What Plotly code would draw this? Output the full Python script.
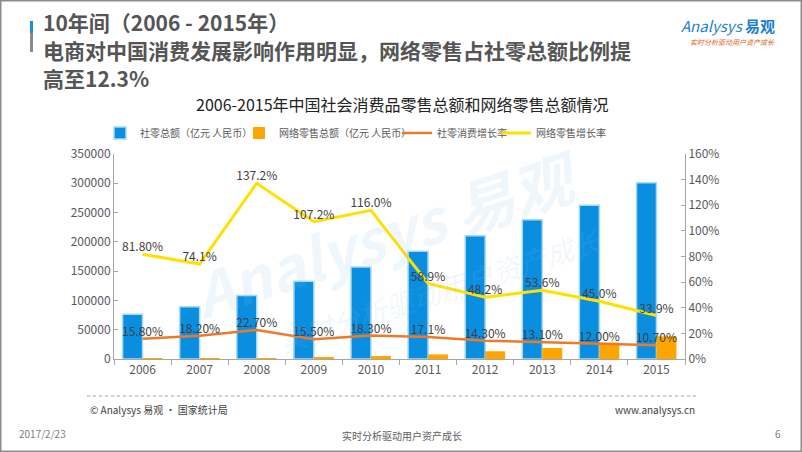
import plotly.graph_objects as go

years = ["2006", "2007", "2008", "2009", "2010", "2011", "2012", "2013", "2014", "2015"]
retail_total = [76410, 89210, 108488, 132678, 156998, 183919, 210307, 237810, 262394, 300931]
online_total = [315, 561, 1300, 2630, 5131, 7826, 13205, 18851, 27898, 38773]
retail_growth = [15.8, 18.2, 22.7, 15.5, 18.3, 17.1, 14.3, 13.1, 12.0, 10.7]
retail_growth_labels = ["15.80%", "18.20%", "22.70%", "15.50%", "18.30%", "17.1%", "14.30%", "13.10%", "12.00%", "10.70%"]
online_growth = [81.8, 74.1, 137.2, 107.2, 116.0, 58.9, 48.2, 53.6, 45.0, 33.9]
online_growth_labels = ["81.80%", "74.1%", "137.2%", "107.2%", "116.0%", "58.9%", "48.2%", "53.6%", "45.0%", "33.9%"]
left_ticks = [0, 50000, 100000, 150000, 200000, 250000, 300000, 350000]
left_tick_text = ["0", "50000", "100000", "150000", "200000", "250000", "300000", "350000"]
right_ticks = [0, 20, 40, 60, 80, 100, 120, 140, 160]
right_tick_text = ["0%", "20%", "40%", "60%", "80%", "100%", "120%", "140%", "160%"]

FONT = "Noto Sans CJK SC"
W, H = 802, 452
L, R, T, B = 114, 685, 154, 359

def px(x):
    return (x - L) / (R - L)

def py(y):
    return (B - y) / (B - T)

fig = go.Figure()
fig.add_trace(go.Bar(x=years, y=retail_total, name="社零总额（亿元 人民币）", legend="legend",
                     marker=dict(color="#0A8FE0", line=dict(color="#A8DAF7", width=1.5))))
fig.add_trace(go.Bar(x=years, y=online_total, name="网络零售总额（亿元 人民币）", legend="legend2",
                     marker=dict(color="#FFA500", line=dict(width=0))))
fig.add_trace(go.Scatter(x=years, y=retail_growth, name="社零消费增长率", yaxis="y2", legend="legend3",
                         mode="lines+text", line=dict(color="#F07828", width=2.5),
                         text=retail_growth_labels, textposition="top center",
                         textfont=dict(size=12, color="#404040", family=FONT), cliponaxis=False))
fig.add_trace(go.Scatter(x=years, y=online_growth, name="网络零售增长率", yaxis="y2", legend="legend4",
                         mode="lines+text", line=dict(color="#FFE000", width=3),
                         text=online_growth_labels, textposition="top center",
                         textfont=dict(size=12, color="#404040", family=FONT), cliponaxis=False))

ann = []
# watermark
ann.append(dict(x=px(385), y=py(232), xref="paper", yref="paper", text="<i><b>Analysys 易观</b></i>",
                showarrow=False, textangle=-18, font=dict(size=60, color="rgba(140,190,235,0.13)", family=FONT)))
ann.append(dict(x=px(440), y=py(290), xref="paper", yref="paper", text="<i>实时分析驱动用户资产成长</i>",
                showarrow=False, textangle=-18, font=dict(size=28, color="rgba(140,190,235,0.12)", family=FONT)))
# title lines
title_lines = [("10年间（2006 - 2015年）", 22), ("电商对中国消费发展影响作用明显，网络零售占社零总额比例提", 50), ("高至12.3%", 78)]
for t, yy in title_lines:
    ann.append(dict(x=px(41), y=py(yy), xref="paper", yref="paper", text="<b>" + t + "</b>", showarrow=False,
                    xanchor="left", yanchor="middle", font=dict(size=21, color="#555555", family=FONT)))
ann.append(dict(x=px(402), y=py(104), xref="paper", yref="paper", text="2006-2015年中国社会消费品零售总额和网络零售总额情况",
                showarrow=False, xanchor="center", yanchor="middle", font=dict(size=16, color="#222222", family=FONT)))
# logo
ann.append(dict(x=px(728), y=py(26), xref="paper", yref="paper", text="<i>Analysys</i> <b>易观</b>", showarrow=False,
                xanchor="center", yanchor="middle", font=dict(size=15, color="#1A7FD0", family=FONT)))
ann.append(dict(x=px(733), y=py(42), xref="paper", yref="paper", text="<i>实时分析驱动用户资产成长</i>", showarrow=False,
                xanchor="center", yanchor="middle", font=dict(size=7, color="#E0602A", family=FONT)))
# footer
ann.append(dict(x=px(88), y=py(409), xref="paper", yref="paper", text="© Analysys 易观 · 国家统计局", showarrow=False,
                xanchor="left", yanchor="middle", font=dict(size=10, color="#404040", family=FONT)))
ann.append(dict(x=px(697), y=py(409), xref="paper", yref="paper", text="www.analysys.cn", showarrow=False,
                xanchor="right", yanchor="middle", font=dict(size=10, color="#404040", family=FONT)))
ann.append(dict(x=px(17), y=py(433), xref="paper", yref="paper", text="2017/2/23", showarrow=False,
                xanchor="left", yanchor="middle", font=dict(size=10, color="#808080", family=FONT)))
ann.append(dict(x=px(402), y=py(435), xref="paper", yref="paper", text="实时分析驱动用户资产成长", showarrow=False,
                xanchor="center", yanchor="middle", font=dict(size=10, color="#606060", family=FONT)))
ann.append(dict(x=px(778), y=py(433), xref="paper", yref="paper", text="6", showarrow=False,
                xanchor="center", yanchor="middle", font=dict(size=10, color="#808080", family=FONT)))

shapes = [
    dict(type="rect", xref="paper", yref="paper", x0=px(0.75), x1=px(801.25), y0=py(0.75), y1=py(451.25),
         line=dict(color="#8C8C8C", width=1.5), fillcolor="rgba(0,0,0,0)", layer="below"),
    dict(type="rect", xref="paper", yref="paper", x0=px(30), x1=px(33), y0=py(21), y1=py(33),
         line=dict(width=0), fillcolor="#1A90D8"),
    dict(type="rect", xref="paper", yref="paper", x0=px(30), x1=px(33), y0=py(33), y1=py(52),
         line=dict(width=0), fillcolor="#8A8A8A"),
    dict(type="line", xref="paper", yref="paper", x0=px(87), x1=px(697), y0=py(396), y1=py(396),
         line=dict(color="#A0A0A0", width=1, dash="dot")),
]

def leg(xpix):
    return dict(orientation="h", x=px(xpix), y=py(133), xanchor="left", yanchor="middle",
                font=dict(size=10, color="#595959", family=FONT), bgcolor="rgba(0,0,0,0)",
                itemwidth=30, borderwidth=0)

fig.update_layout(
    width=W, height=H,
    margin=dict(l=L, r=W - R, t=T, b=H - B, pad=0, autoexpand=False),
    paper_bgcolor="white", plot_bgcolor="rgba(0,0,0,0)",
    font=dict(family=FONT, color="#595959", size=12),
    barmode="group", bargap=0.3, bargroupgap=0,
    showlegend=True,
    legend=leg(100), legend2=leg(239), legend3=leg(397), legend4=leg(496),
    xaxis=dict(type="category", showgrid=False, showline=True, linecolor="#A6A6A6", linewidth=1,
               ticks="outside", tickson="boundaries", ticklen=5, tickcolor="#A6A6A6",
               tickfont=dict(size=12, color="#595959"), automargin=False),
    yaxis=dict(range=[0, 350000], tickvals=left_ticks, ticktext=left_tick_text, showgrid=False, showline=True,
               linecolor="#A6A6A6", automargin=False,
               linewidth=1, ticks="inside", ticklen=4, tickcolor="#A6A6A6", zeroline=False,
               tickfont=dict(size=12, color="#595959")),
    yaxis2=dict(range=[0, 160], tickvals=right_ticks, ticktext=right_tick_text, overlaying="y", side="right",
                showgrid=False, showline=True, linecolor="#A6A6A6", linewidth=1, ticks="inside", ticklen=4,
                tickcolor="#A6A6A6", zeroline=False, tickfont=dict(size=12, color="#595959"), automargin=False),
    annotations=ann, shapes=shapes,
)

fig.write_html("out.html", config={"displayModeBar": False},
               post_script="document.body.style.margin='0';document.body.style.overflow='hidden';")
